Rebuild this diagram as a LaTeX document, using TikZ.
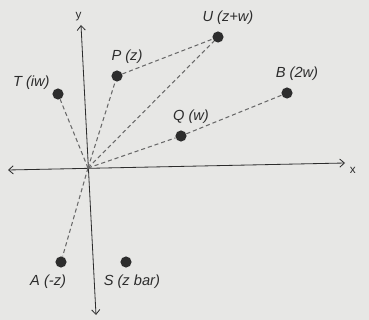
\documentclass[tikz,border=0pt]{standalone}
\usepackage{fontspec}
\setsansfont{Liberation Sans}
\usetikzlibrary{positioning, arrows.meta}
\definecolor{paper}{RGB}{231,231,229}
\definecolor{ink}{RGB}{45,45,45}
\definecolor{dashgray}{RGB}{105,105,105}
\tikzset{
  pt/.style   = {circle, fill=ink, inner sep=0pt, minimum size=9.5pt},
  lbl/.style  = {font=\sffamily\itshape\fontsize{12.5}{14}\selectfont, text=ink, inner sep=0pt},
  axlbl/.style= {font=\sffamily\fontsize{10}{12}\selectfont, text=ink, inner sep=0pt},
  ax/.style   = {{Straight Barb[length=4pt,width=7pt]}-{Straight Barb[length=4pt,width=7pt]}, draw=ink, line width=0.7pt},
  link/.style = {draw=dashgray, line width=0.9pt, dash pattern=on 3.5pt off 2.5pt}
}

\begin{document}
\begin{tikzpicture}[x=0.03cm, y=-0.03cm]
  \fill[paper] (0,0) rectangle (369,320);
  \useasboundingbox (0,0) rectangle (369,320);

  % axes
  \coordinate (O)  at (88,168);
  \coordinate (xl) at (8,170);
  \coordinate (xr) at (345,163);
  \coordinate (yt) at (81,25);
  \coordinate (yb) at (96,315);
  \draw[ax] (xl) -- (xr);
  \draw[ax] (yb) -- (yt);
  \node[axlbl] (xlab) [right=4pt of xr, yshift=-6pt] {x};
  \node[axlbl] (ylab) [above=3pt of yt, xshift=-2pt] {y};

  % points
  \node[pt] (U) at (218,37)  {};
  \node[pt] (P) at (117,76)  {};
  \node[pt] (T) at (58,94)   {};
  \node[pt] (B) at (287,93)  {};
  \node[pt] (Q) at (181,136) {};
  \node[pt] (A) at (61,262)  {};
  \node[pt] (S) at (126,262) {};

  \node[lbl] (Ulab) [above=5.5pt of U, xshift=8.5pt] {U (z+w)};
  \node[lbl] (Plab) [above=5.5pt of P, xshift=8.5pt] {P (z)};
  \node[lbl] (Tlab) [left=2pt of T, yshift=10pt]     {T (iw)};
  \node[lbl] (Blab) [above=5.5pt of B, xshift=8.5pt] {B (2w)};
  \node[lbl] (Qlab) [above=5.5pt of Q, xshift=8.5pt] {Q (w)};
  \node[lbl] (Alab) [below=5.5pt of A, xshift=-11pt] {A (-z)};
  \node[lbl] (Slab) [below=5.5pt of S, xshift=5pt]   {S (z bar)};

  % dashed links
  \draw[link] (O) -- (T);
  \draw[link] (O) -- (P);
  \draw[link] (O) -- (U);
  \draw[link] (O) -- (Q);
  \draw[link] (O) -- (A);
  \draw[link] (P) -- (U);
  \draw[link] (Q) -- (B);
\end{tikzpicture}
\end{document}
